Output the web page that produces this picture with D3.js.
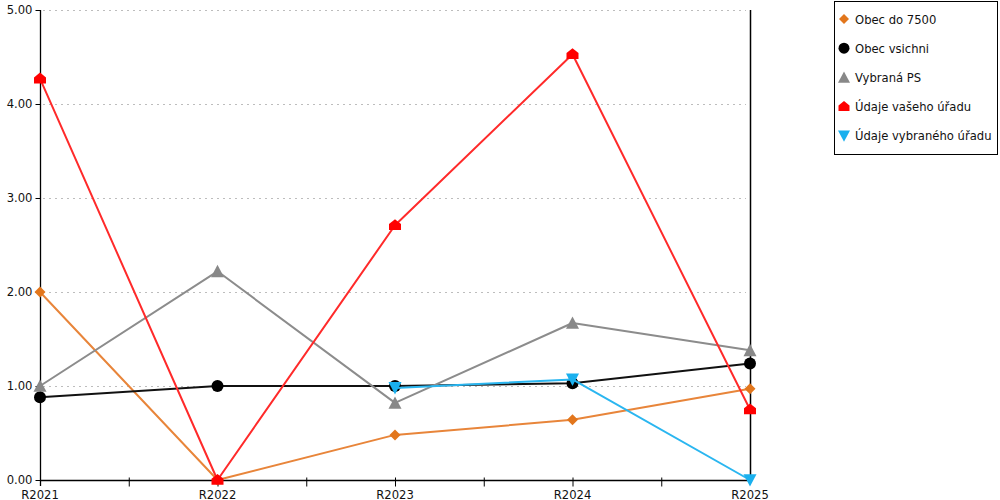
<!DOCTYPE html>
<html><head><meta charset="utf-8">
<script src="https://cdn.jsdelivr.net/npm/d3@7"></script>
<style>
body{margin:0;background:#fff;}
svg{display:block;font-family:"DejaVu Sans",Verdana,sans-serif;}
</style></head>
<body>
<svg id="c" width="1000" height="500"></svg>
<script>
const categories = ["R2021","R2022","R2023","R2024","R2025"];
const seriesNames = ["Obec do 7500","Obec vsichni","Vybraná PS","Údaje vašeho úřadu","Údaje vybraného úřadu"];
const obecDo7500 = [2.00, 0.00, 0.48, 0.64, 0.97];
const obecVsichni = [0.88, 1.00, 1.00, 1.03, 1.24];
const vybranaPS = [1.00, 2.22, 0.82, 1.67, 1.38];
const udajeVaseho = [4.27, 0.00, 2.71, 4.53, 0.75];
const udajeVybraneho = [null, null, 0.98, 1.07, 0.00];
const yTicks = [0,1,2,3,4,5];

const seriesValues = [obecDo7500, obecVsichni, vybranaPS, udajeVaseho, udajeVybraneho];
const colors = ["#e2761c","#000000","#888888","#ff0000","#1ab0ee"];
const lineColors = ["#e8853a","#111111","#8c8c8c","#ff2a2a","#2ab6f0"];
const shapes = ["diamond","circle","triangle","house","down"];
const FS = 11.6;

const svg = d3.select("#c");
const x = d3.scalePoint().domain(categories).range([40,750]);
const y = d3.scaleLinear().domain([0,5]).range([480,10]);

// grid
svg.append("g").selectAll("line").data(yTicks.filter(d=>d>0)).join("line")
  .attr("x1",43).attr("x2",746).attr("y1",d=>y(d)+0.5).attr("y2",d=>y(d)+0.5)
  .attr("stroke","#bdbdbd").attr("stroke-dasharray","2,4").attr("stroke-width",1);

// right border line
svg.append("line").attr("x1",x("R2025")+0.5).attr("x2",x("R2025")+0.5)
  .attr("y1",y(5)).attr("y2",y(0)).attr("stroke","#000").attr("stroke-width",1.5);

// y axis
const yAxis = d3.axisLeft(y).tickValues(yTicks).tickFormat(d3.format(".2f")).tickSize(5).tickPadding(3);
const gy = svg.append("g").attr("transform","translate(40.5,0)").call(yAxis);
gy.select(".domain").attr("d",`M0,${y(5)}V${y(0)+6}`).attr("stroke","#000").attr("stroke-width",1.3);
gy.selectAll(".tick line").attr("stroke","#000");
gy.selectAll(".tick text").attr("font-size",FS).attr("fill","#111").attr("font-family","DejaVu Sans, sans-serif");

// x axis
const step = x.step();
const xTickPos = [];
categories.forEach((c,i)=>{ xTickPos.push(x(c)); if(i<categories.length-1) xTickPos.push(x(c)+step/2); });
const gx = svg.append("g").attr("transform",`translate(0,${y(0)+0.5})`);
gx.append("line").attr("x1",x("R2021")).attr("x2",x("R2025")).attr("stroke","#000").attr("stroke-width",1.3);
gx.selectAll("line.t").data(xTickPos.slice(1,-1)).join("line").attr("class","t")
  .attr("x1",d=>d+0.5).attr("x2",d=>d+0.5).attr("y1",-3).attr("y2",6).attr("stroke","#000");
gx.selectAll("text").data(categories).join("text")
  .attr("x",d=>x(d)).attr("y",18).attr("text-anchor","middle")
  .attr("font-size",FS).attr("fill","#111").text(d=>d);

function markerPath(shape, s){
  const h = s/2;
  switch(shape){
    case "diamond": return `M0,${-h}L${h},0L0,${h}L${-h},0Z`;
    case "circle": return d3.symbol(d3.symbolCircle, Math.PI*h*h)();
    case "triangle": return `M0,${-h}L${h},${h*0.9}L${-h},${h*0.9}Z`;
    case "house": return `M0,${-h}L${h},${-h*0.2}L${h},${h*0.8}L${-h},${h*0.8}L${-h},${-h*0.2}Z`;
    case "down": return `M${-h},${-h*0.9}L${h},${-h*0.9}L0,${h}Z`;
  }
}
const sizes = [11,12,13,12,13];

const line = d3.line().defined(d=>d.v!==null).x(d=>x(d.c)).y(d=>y(d.v));
seriesValues.forEach((vals,si)=>{
  const pts = vals.map((v,i)=>({c:categories[i],v}));
  svg.append("path").datum(pts).attr("d",line).attr("fill","none")
    .attr("stroke",lineColors[si]).attr("stroke-width",2).attr("stroke-linejoin","round");
  svg.append("g").selectAll("path").data(pts.filter(d=>d.v!==null)).join("path")
    .attr("transform",d=>`translate(${x(d.c)},${y(d.v)})`)
    .attr("d",markerPath(shapes[si],sizes[si])).attr("fill",colors[si]);
});

// legend
const lg = svg.append("g");
lg.append("rect").attr("x",834.5).attr("y",1.5).attr("width",163).attr("height",153)
  .attr("fill","#fff").attr("stroke","#000").attr("stroke-width",1);
seriesNames.forEach((n,i)=>{
  const yy = 19 + i*29.2;
  lg.append("path").attr("transform",`translate(844,${yy})`)
    .attr("d",markerPath(shapes[i],sizes[i]-1)).attr("fill",colors[i]);
  lg.append("text").attr("x",855).attr("y",yy+4.5).attr("font-size",FS).attr("fill","#111").text(n);
});
</script>
</body></html>
